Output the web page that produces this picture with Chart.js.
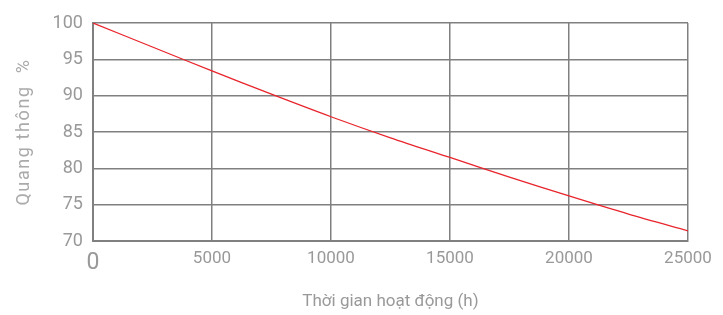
<!DOCTYPE html>
<html>
<head>
<meta charset="utf-8">
<script src="https://cdn.jsdelivr.net/npm/chart.js@4"></script>
<style>
  html, body { margin: 0; padding: 0; background: #fff; }
  #wrap { width: 723px; height: 315px; }
</style>
</head>
<body>
<div id="wrap"><canvas id="lumenCanvas"></canvas></div>
<script>
// operating hours vs luminous flux (%)
const hours = [0, 2500, 5000, 7500, 10000, 12500, 15000, 17500, 20000, 22500, 25000];
const flux = [100, 96.7, 93.4, 90.2, 87.1, 84.2, 81.5, 78.8, 76.2, 73.7, 71.4];

const xTicks = [0, 5000, 10000, 15000, 20000, 25000];
const yTicks = [70, 75, 80, 85, 90, 95, 100];

const gray = "#999999";
const gridGray = "#808080";

// spread out the letters of the y title a bit, like the original
const spacedTitle = {
    id: "spacedTitle",
    beforeDraw(chart) {
        const sc = chart.scales.y;
        if (sc._spaced) return;
        const orig = sc.drawTitle;
        sc.drawTitle = function () {
            const ctx = this.ctx;
            const old = ctx.letterSpacing;
            ctx.letterSpacing = "1.6px";
            orig.apply(this, arguments);
            ctx.letterSpacing = old || "0px";
        };
        sc._spaced = true;
    }
};

const lumenCanvas = document.getElementById("lumenCanvas");

const lumenChart = new Chart(lumenCanvas, {
    type: "line",
    data: {
        datasets: [{
            data: hours.map((h, i) => ({ x: h, y: flux[i] })),
            borderColor: "#e8242c",
            borderWidth: 1.3,
            pointRadius: 0,
            tension: 0.3,
            fill: false
        }]
    },
    plugins: [spacedTitle],
    options: {
        responsive: true,
        maintainAspectRatio: false,
        animation: false,
        layout: {
            padding: { left: 14, right: 35, top: 23, bottom: 3 }
        },
        plugins: {
            legend: { display: false },
            tooltip: { enabled: false }
        },
        scales: {
            x: {
                type: "linear",
                min: xTicks[0],
                max: xTicks[xTicks.length - 1],
                afterBuildTicks: (axis) => { axis.ticks = xTicks.map(v => ({ value: v })); },
                grid: { color: gridGray, lineWidth: 1.5, drawTicks: false },
                border: { color: gridGray, width: 2 },
                ticks: {
                    padding: 8,
                    color: gray,
                    font: (ctx) => ({
                        family: "Roboto",
                        size: ctx.tick && ctx.tick.value === 0 ? 23 : 17
                    }),
                    callback: (v) => String(v)
                },
                title: {
                    display: true,
                    text: "Thời gian hoạt động (h)",
                    color: gray,
                    font: { family: "Roboto", size: 17 },
                    padding: { top: 7, bottom: 0 }
                }
            },
            y: {
                min: yTicks[0],
                max: yTicks[yTicks.length - 1],
                afterBuildTicks: (axis) => { axis.ticks = yTicks.map(v => ({ value: v })); },
                grid: { color: gridGray, lineWidth: 1.5, drawTicks: false },
                border: { color: gridGray, width: 2 },
                ticks: {
                    padding: 10,
                    color: gray,
                    font: { family: "Roboto", size: 18 }
                },
                title: {
                    display: true,
                    text: "Quang thông  %",
                    color: "#aaaaaa",
                    font: { family: "Roboto", size: 18 },
                    padding: { top: 0, bottom: 7 }
                }
            }
        }
    }
});
</script>
</body>
</html>
